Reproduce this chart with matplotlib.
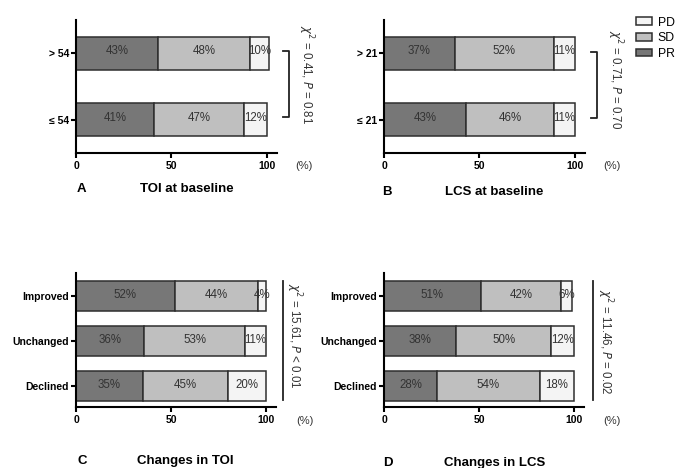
import matplotlib
matplotlib.use('Agg')
import matplotlib.pyplot as plt
from matplotlib.patches import Patch
from matplotlib.lines import Line2D
import numpy as np

plt.rcParams['font.family'] = ['Liberation Sans', 'DejaVu Sans']

# data: PR, SD, PD (%) per group, listed bottom-to-top
groups_a = ['\u2264 54', '> 54']
pr_a = [41, 43]
sd_a = [47, 48]
pd_a = [12, 10]

groups_b = ['\u2264 21', '> 21']
pr_b = [43, 37]
sd_b = [46, 52]
pd_b = [11, 11]

groups_c = ['Declined', 'Unchanged', 'Improved']
pr_c = [35, 36, 52]
sd_c = [45, 53, 44]
pd_c = [20, 11, 4]

groups_d = ['Declined', 'Unchanged', 'Improved']
pr_d = [28, 38, 51]
sd_d = [54, 50, 42]
pd_d = [18, 12, 6]

stats = ['0.41', '0.81', '0.71', '0.70', '15.61', '< 0.01', '11.46', '0.02']

col_pr = '#777777'
col_sd = '#bfbfbf'
col_pd = '#f4f4f4'
edge = '#2e2e2e'
txt = '#333333'

W, H = 677, 468
fig = plt.figure(figsize=(W / 100, H / 100), dpi=100)


def px(x, y):
    return x / W, 1 - y / H


def make_ax(left, right, top, bottom):
    return fig.add_axes([left / W, 1 - bottom / H, (right - left) / W, (bottom - top) / H])


def draw(ax, groups, pr, sd, pd_, height, ylim):
    y = np.arange(len(groups))
    left = np.zeros(len(groups))
    for vals, c in [(pr, col_pr), (sd, col_sd), (pd_, col_pd)]:
        vals = np.array(vals, dtype=float)
        ax.barh(y, vals, left=left, height=height, color=c, edgecolor=edge, linewidth=1.1)
        for yi, l, v in zip(y, left, vals):
            ax.text(l + v / 2, yi + 0.03, '%d%%' % v, ha='center', va='center',
                    fontsize=8.3, color=txt)
        left = left + vals
    ax.set_xlim(0, 105)
    ax.set_ylim(*ylim)
    ax.set_yticks(y)
    ax.set_yticklabels(groups, fontsize=7.5, fontweight='bold')
    ax.set_xticks([0, 50, 100])
    ax.set_xticklabels(['0', '50', '100'], fontsize=7.5, fontweight='bold')
    for s in ['top', 'right']:
        ax.spines[s].set_visible(False)
    for s in ['left', 'bottom']:
        ax.spines[s].set_linewidth(1.5)
    ax.tick_params(axis='both', length=3.5, width=1.5, pad=1.5)
    ax.tick_params(axis='x', pad=2.5)


ax_a = make_ax(76, 276.5, 20, 153)
draw(ax_a, groups_a, pr_a, sd_a, pd_a, 0.5, (-0.5, 1.5))
ax_b = make_ax(384, 584.5, 20, 153)
draw(ax_b, groups_b, pr_b, sd_b, pd_b, 0.5, (-0.5, 1.5))
ax_c = make_ax(76, 275.5, 273, 407)
draw(ax_c, groups_c, pr_c, sd_c, pd_c, 0.667, (-0.47, 2.51))
ax_d = make_ax(384, 583.5, 273, 407)
draw(ax_d, groups_d, pr_d, sd_d, pd_d, 0.667, (-0.47, 2.51))

# "(%)" unit labels
for x, y in [(304, 166), (612, 166), (305, 421), (612, 421)]:
    fig.text(*px(x, y), '(%)', fontsize=8, color=txt, ha='center', va='center')

# panel letters and titles
for letter, lx, title, tx, y in [('A', 77, 'TOI at baseline', 187, 189),
                                 ('B', 382, 'LCS at baseline', 494, 192),
                                 ('C', 77, 'Changes in TOI', 185, 461),
                                 ('D', 383, 'Changes in LCS', 495, 463)]:
    fig.text(*px(lx, y), letter, fontsize=9.5, fontweight='bold', ha='left', va='center')
    fig.text(*px(tx, y), title, fontsize=9.5, fontweight='bold', ha='center', va='center')

# brackets and chi-square annotations
def bracket(x, y0, y1, stub):
    xs = [x - stub, x, x, x - stub] if stub else [x, x]
    ys = [y0, y0, y1, y1] if stub else [y0, y1]
    fx = [v / W for v in xs]
    fy = [1 - v / H for v in ys]
    fig.add_artist(Line2D(fx, fy, color='#222222', linewidth=1.3))


bracket(289, 51, 117, 6)
bracket(597, 52, 118, 6)
bracket(283, 281, 400, 0)
bracket(593, 281, 400, 0)

for (chi, p), x, y in [((stats[0], stats[1]), 306, 75),
                       ((stats[2], stats[3]), 615, 80),
                       ((stats[4], stats[5]), 294, 336),
                       ((stats[6], stats[7]), 605, 342)]:
    eq = ' ' if p.startswith('<') else ' = '
    fig.text(*px(x, y), r'$\chi^2$ = %s, $P$%s%s' % (chi, eq, p), rotation=270,
             fontsize=8.3, color=txt, ha='center', va='center')

# legend
handles = [Patch(facecolor=col_pd, edgecolor=edge, linewidth=1.1, label='PD'),
           Patch(facecolor=col_sd, edgecolor=edge, linewidth=1.1, label='SD'),
           Patch(facecolor=col_pr, edgecolor=edge, linewidth=1.1, label='PR')]
fig.legend(handles=handles, loc='upper left', bbox_to_anchor=px(627, 8), frameon=False,
           fontsize=8.8, handlelength=1.35, handleheight=0.6, labelspacing=0.3,
           handletextpad=0.45, borderpad=0.2)

fig.savefig('out.png', dpi=100)
